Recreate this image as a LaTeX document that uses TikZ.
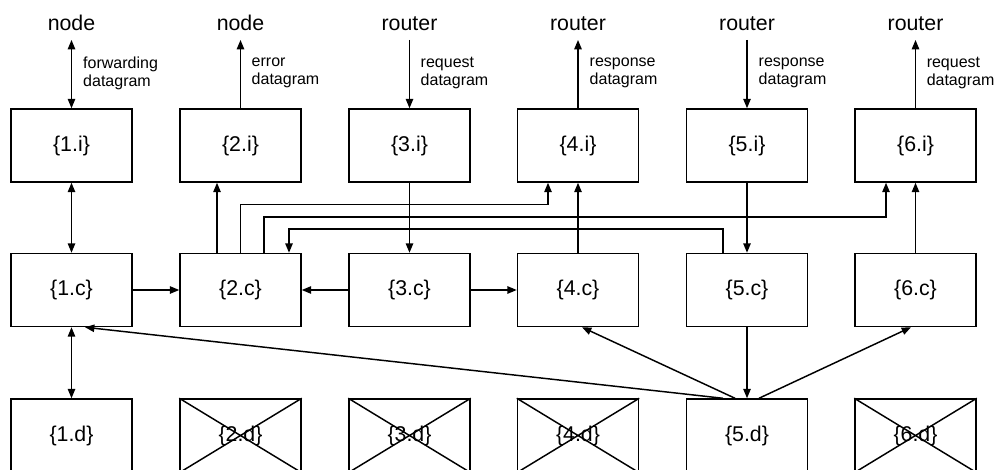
\documentclass[tikz,border=0pt]{standalone}
\usepackage{fontspec}
\setmainfont{Liberation Sans}
\usetikzlibrary{arrows.meta,calc}

\begin{document}
\begin{tikzpicture}[x=0.75pt,y=-0.75pt,
  line width=1.1pt,
  >={Triangle[length=7pt,width=5.5pt]},
  box/.style={draw, minimum width=90.75pt, minimum height=54.75pt, inner sep=0pt,
    font=\fontsize{16}{19}\selectfont},
  endpoint/.style={anchor=base, inner sep=6pt, font=\fontsize{16}{19}\selectfont},
  note/.style={anchor=west, align=left, inner sep=0pt, font=\fontsize{12}{13.5}\selectfont},
  crossed/.style={line width=1.1pt}]

\useasboundingbox (0,0) rectangle (994,470);
\clip (0,0) rectangle (994,470);

% endpoints above the columns
\node[endpoint] (n1) at (71.5,31)  {node};
\node[endpoint] (n2) at (240.5,31) {node};
\node[endpoint] (n3) at (409.5,31) {router};
\node[endpoint] (n4) at (578,31)   {router};
\node[endpoint] (n5) at (747,31)   {router};
\node[endpoint] (n6) at (915.5,31) {router};

% datagram notes
\node[note] (l1) at (82.5,73)  {forwarding\\datagram};
\node[note] (l2) at (251,73)   {error\\datagram};
\node[note] (l3) at (420,73)   {request\\datagram};
\node[note] (l4) at (589,73)   {response\\datagram};
\node[note] (l5) at (758,73)   {response\\datagram};
\node[note] (l6) at (926,73)   {request\\datagram};

% interface row
\node[box] (i1) at (71.5,145.5)  {\{1.i\}};
\node[box] (i2) at (240.5,145.5) {\{2.i\}};
\node[box] (i3) at (409.5,145.5) {\{3.i\}};
\node[box] (i4) at (578,145.5)   {\{4.i\}};
\node[box] (i5) at (747,145.5)   {\{5.i\}};
\node[box] (i6) at (915.5,145.5) {\{6.i\}};

% control row
\node[box] (c1) at (71.5,290)  {\{1.c\}};
\node[box] (c2) at (240.5,290) {\{2.c\}};
\node[box] (c3) at (409.5,290) {\{3.c\}};
\node[box] (c4) at (578,290)   {\{4.c\}};
\node[box] (c5) at (747,290)   {\{5.c\}};
\node[box] (c6) at (915.5,290) {\{6.c\}};

% data row
\node[box] (d1) at (71.5,435.5)  {\{1.d\}};
\node[box] (d2) at (240.5,435.5) {\{2.d\}};
\node[box] (d3) at (409.5,435.5) {\{3.d\}};
\node[box] (d4) at (578,435.5)   {\{4.d\}};
\node[box] (d5) at (747,435.5)   {\{5.d\}};
\node[box] (d6) at (915.5,435.5) {\{6.d\}};

% unused data boxes are crossed out
\foreach \d in {d2,d3,d4,d6}
  \draw[crossed] (\d.north west) -- (\d.south east) (\d.north east) -- (\d.south west);

% traffic to and from the endpoints
\draw[<->] (n1) -- (i1);
\draw[->] (i2) -- (n2);
\draw[->] (n3) -- (i3);
\draw[->] (i4) -- (n4);
\draw[->] (n5) -- (i5);
\draw[->] (i6) -- (n6);

% interface <-> control
\draw[<->] (i1) -- (c1);
\draw[->] ($(c2.north)+(-23.5,0)$) -- ($(i2.south)+(-23.5,0)$);
\draw[->] (i3) -- (c3);
\draw[->] (c4) -- (i4);
\draw[->] (i5) -- (c5);
\draw[->] (c6) -- (i6);

% routed links between columns
\draw[->] (c2.north) -- ++(0,-48) -| ($(i4.south)+(-30,0)$);
\draw[->] ($(c2.north)+(23.5,0)$) -- ++(0,-36) -| ($(i6.south)+(-29.5,0)$);
\draw[->] ($(c5.north)+(-24,0)$) -- ++(0,-24) -| ($(c2.north)+(48.5,0)$);

% control row links
\draw[->] (c1) -- (c2);
\draw[->] (c3) -- (c2);
\draw[->] (c3) -- (c4);

% control <-> data
\draw[<->] (c1) -- (d1);
\draw[->] (c5) -- (d5);
\draw[->] ($(d5.north)+(-24,0)$) -- ($(c1.south)+(13.5,0)$);
\draw[->] ($(d5.north)+(-12,0)$) -- ($(c4.south)+(4,0)$);
\draw[->] ($(d5.north)+(12,0)$) -- ($(c6.south)+(-4.5,0)$);

\end{tikzpicture}
\end{document}
